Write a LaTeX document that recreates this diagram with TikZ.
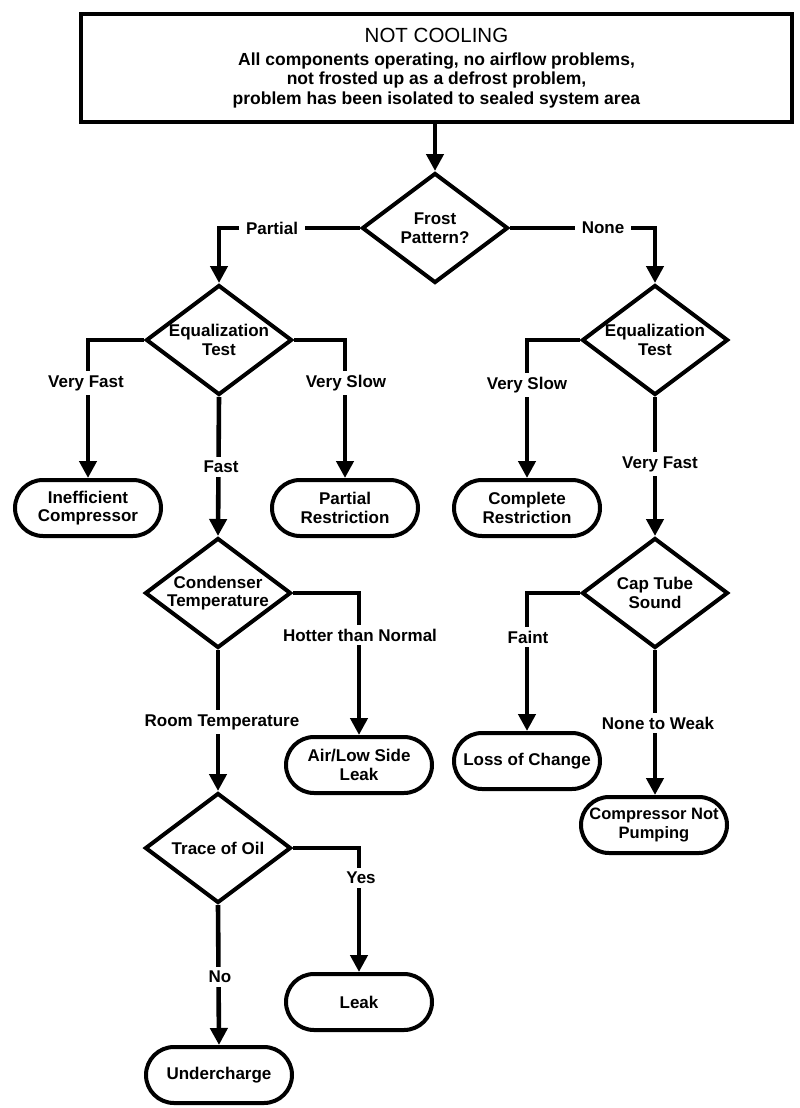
\documentclass[tikz,border=0pt]{standalone}
\usepackage{fontspec}
\setmainfont{Liberation Sans}
\usetikzlibrary{shapes.geometric,arrows.meta}
\begin{document}
\begin{tikzpicture}[x=1pt,y=-1pt,
  conn/.style={line width=4.6pt, -{Triangle[width=17pt,length=17pt]}},
  dia/.style={draw, line width=4pt, diamond, inner sep=0pt, minimum width=146pt, minimum height=110pt},
  dtext/.style={font=\fontsize{17}{18.5}\selectfont\bfseries, align=center, inner sep=0pt},
  term/.style={draw, line width=4pt, rectangle, rounded corners=28pt, minimum width=146pt, minimum height=56pt, align=center, font=\fontsize{17}{18.5}\selectfont\bfseries, inner sep=0pt},
  lbl/.style={fill=white, font=\fontsize{17}{18.5}\selectfont\bfseries, inner xsep=7pt, inner ysep=4pt}
]
\useasboundingbox (0,0) rectangle (800,1108);

% top box
\node[draw, line width=4.5pt, minimum width=711pt, minimum height=108pt, align=center, inner sep=0pt,
      font=\fontsize{17.5}{19.5}\selectfont\bfseries] (top) at (436.5,68)
  {{\fontsize{20.5}{22}\selectfont\mdseries NOT COOLING}\\[3pt]
   All components operating, no airflow problems,\\
   not frosted up as a defrost problem,\\
   problem has been isolated to sealed system area};

% decisions
\node[dia] (frost) at (435,228) {};
\node[dtext] (frostT) at (frost.center) {Frost\\Pattern?};
\node[dia] (eqL) at (219,340) {};
\node[dtext] (eqLT) at (eqL.center) {Equalization\\Test};
\node[dia] (eqR) at (655,340) {};
\node[dtext] (eqRT) at (eqR.center) {Equalization\\Test};
\node[dia] (cond) at (218,593) {};
\node[dtext] (condT) at (cond.center) {Condenser\\Temperature};
\node[dia] (cap) at (655,593) {};
\node[dtext] (capT) at (cap.center) {Cap Tube\\Sound};
\node[dia] (oil) at (218,848) {};
\node[dtext] (oilT) at (oil.center) {Trace of Oil};

% terminals
\node[term] (ineff) at (88,508) {Inefficient\\Compressor};
\node[term] (partR) at (345,508) {Partial\\Restriction};
\node[term] (compR) at (527,508) {Complete\\Restriction};
\node[term] (air) at (359,765) {Air/Low Side\\Leak};
\node[term] (loss) at (527,761) {Loss of Change};
\node[term] (cnp) at (654,825) {\fontsize{16.5}{18}\selectfont Compressor Not\\\fontsize{16.5}{18}\selectfont Pumping};
\node[term] (leak) at (359,1002) {Leak};
\node[term] (under) at (219,1075) {Undercharge};

% connectors
\draw[conn] (top.south -| frost.north) -- (frost.north);
\draw[conn] (frost.west) -| (eqL.north);
\draw[conn] (frost.east) -| (eqR.north);
\draw[conn] (eqL.west) -| (ineff.north);
\draw[conn] (eqL.east) -| (partR.north);
\draw[conn] (eqL.south) -- (cond.north);
\draw[conn] (eqR.west) -| (compR.north);
\draw[conn] (eqR.south) -- (cap.north);
\draw[conn] (cond.east) -| (air.north);
\draw[conn] (cond.south) -- (oil.north);
\draw[conn] (cap.west) -| (loss.north);
\draw[conn] (cap.south) -- (cap.south |- cnp.north);
\draw[conn] (oil.east) -| (leak.north);
\draw[conn] (oil.south) -- (under.north);

% labels
\node[lbl] (l1) at (272,228) {Partial};
\node[lbl] (l2) at (603,228) {None};
\node[lbl] (l3) at (86,383) {Very Fast};
\node[lbl] (l4) at (346,383) {Very Slow};
\node[lbl] (l5) at (221,467) {Fast};
\node[lbl] (l6) at (527,385) {Very Slow};
\node[lbl] (l7) at (660,464) {Very Fast};
\node[lbl] (l8) at (360,635) {Hotter than Normal};
\node[lbl] (l9) at (222,722) {Room Temperature};
\node[lbl] (l10) at (528,637) {Faint};
\node[lbl] (l11) at (658,723) {None to Weak};
\node[lbl] (l12) at (361,878) {Yes};
\node[lbl] (l13) at (220,977) {No};
\end{tikzpicture}
\end{document}
